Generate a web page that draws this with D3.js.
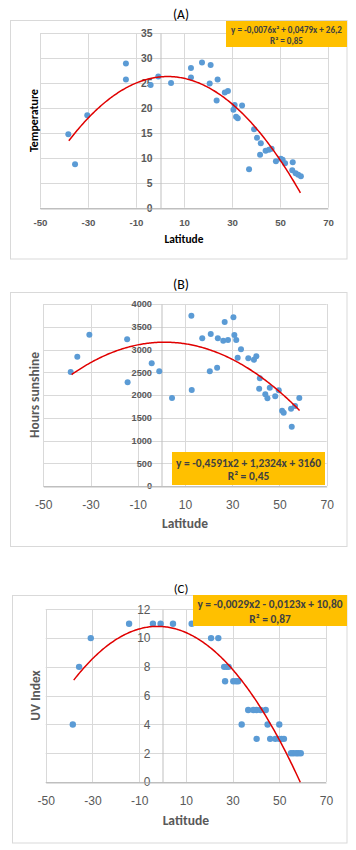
<!DOCTYPE html>
<html><head><meta charset="utf-8">
<script src="https://cdn.jsdelivr.net/npm/d3@7"></script>
<style>
html,body{margin:0;padding:0;background:#fff;}
svg{display:block;font-family:Calibri,Carlito,"Open Sans","Liberation Sans",sans-serif;}
</style></head><body>
<svg id="c" width="356" height="850"></svg>
<script>
// ---- data ----
const xTicks = [-50, -30, -10, 10, 30, 50, 70];

const tempLat = [-14.2,-14.2,-0.7,-3.9,4.6,12.9,12.9,17.5,21.1,20.7,24.0,23.6,27.0,28.3,31.1,30.6,34.2,31.7,32.4,39.2,40.4,-38.2,-30.3,-35.4,42.0,41.7,44.0,45.4,46.5,37.1,48.3,50.3,51.1,52.1,55.3,55.1,56.5,57.6,58.7];
const tempVal = [28.9,25.7,26.3,24.6,25.0,28.0,26.1,29.1,28.6,24.9,25.7,21.5,23.1,23.4,20.6,19.6,20.5,18.2,17.9,15.7,14.0,14.7,18.5,8.7,12.9,10.6,11.4,11.6,11.8,7.7,9.3,9.8,9.6,8.9,9.1,7.5,6.9,6.6,6.3];
const tempTicks = [0,5,10,15,20,25,30,35];
const tempFit = [-0.0076, 0.0479, 26.2];

const sunLat = [-38.4,-35.6,-30.5,-14.5,-14.3,-4.1,-0.9,4.5,12.7,12.85,17.3,20.9,20.5,23.6,23.9,26.2,28.2,26.8,30.5,30.9,31.7,33.7,32.3,36.8,39.2,40.2,41.7,41.4,44.0,44.9,45.9,48.2,49.7,51.1,51.8,54.9,56.6,58.4,55.2];
const sunVal = [2506,2842,3326,3224,2279,2697,2521,1934,3743,2110,3246,3341,2521,2600,3246,3194,3209,3605,3708,3319,3209,3004,2820,2807,2776,2851,2367,2139,2016,1927,2161,1971,2103,1655,1611,1700,1758,1934,1303];
const sunTicks = [0,500,1000,1500,2000,2500,3000,3500,4000];
const sunFit = [-0.4591, 1.2324, 3160];

const uvLat = [-35.7,-30.7,-14.3,-4.1,-0.8,4.5,12.5,20.8,23.9,26.4,27.5,28.3,26.8,30.3,31.5,32.4,-38.4,33.9,36.7,38.9,40.3,42.0,44.2,40.3,45.0,50.0,46.1,48.3,50.0,51.0,52.0,55.0,56.0,57.2,58.1,59.2];
const uvVal = [8,10,11,11,11,11,11,10,10,8,8,8,7,7,7,7,4,4,5,5,5,5,5,3,4,4,3,3,3,3,3,2,2,2,2,2];
const uvTicks = [0,2,4,6,8,10,12];
const uvFit = [-0.0029, -0.0123, 10.80];

const titles = ["(A)", "(B)", "(C)"];
const yLabels = ["Temperature", "Hours sunshine", "UV Index"];
const eqA = ["y = -0,0076x² + 0,0479x + 26,2", "R² = 0,85"];
const eqB = ["y = -0,4591x2 + 1,2324x + 3160", "R² = 0,45"];
const eqC = ["y = -0,0029x2 - 0,0123x + 10,80", "R² = 0,87"];

// ---- drawing ----
const svg = d3.select("#c");
const plain = d => String(d); // hyphen-minus, as in the original

// scale a text's font size so that its rendered width matches a target width
function fit(sel, target) {
  const node = sel.node();
  const fs = parseFloat(sel.attr("font-size"));
  const w = node.getComputedTextLength();
  const nf = fs * target / w;
  sel.attr("font-size", nf);
  return nf;
}

function panel(o) {
  const g = svg.append("g");
  g.append("rect").attr("x", o.frame[0]).attr("y", o.frame[1]).attr("width", o.frame[2]).attr("height", o.frame[3])
    .attr("fill", "#fff").attr("stroke", "#d9d9d9").attr("stroke-width", 1);
  const t = g.append("text").attr("x", o.titleXY[0]).attr("y", o.titleXY[1]).attr("text-anchor", "middle")
    .attr("dominant-baseline", "central").attr("font-size", 13).attr("fill", "#000").text(o.title);
  fit(t, o.titleW);

  const x = d3.scaleLinear().domain([-50, 70]).range(o.xr);
  const y = d3.scaleLinear().domain(o.yd).range(o.yr);

  // grid
  g.append("g").selectAll("line").data(o.yTicks).join("line")
    .attr("x1", o.xr[0]).attr("x2", o.xr[1]).attr("y1", d => Math.round(y(d)) + 0.5).attr("y2", d => Math.round(y(d)) + 0.5)
    .attr("stroke", d => d === 0 ? "#bfbfbf" : "#d9d9d9");
  g.append("g").selectAll("line").data(xTicks).join("line")
    .attr("x1", d => Math.round(x(d)) + 0.5).attr("x2", d => Math.round(x(d)) + 0.5).attr("y1", o.yr[0]).attr("y2", o.yr[1])
    .attr("stroke", "#d9d9d9");

  // y axis at x = 0
  const yAxis = d3.axisLeft(y).tickValues(o.yTicks).tickSize(0).tickPadding(o.yPad).tickFormat(plain);
  const ya = g.append("g").attr("transform", `translate(${Math.round(x(0)) + 0.5},0)`).call(yAxis);
  ya.select(".domain").attr("stroke", "#bfbfbf");
  ya.selectAll("text").attr("font-size", 10).attr("font-weight", o.yBold ? "bold" : "normal")
    .attr("fill", "#595959").attr("font-family", "inherit");
  const yRef = ya.selectAll("text").filter(d => d === o.yRefTick);
  const yfs = fit(yRef, o.yRefW);
  ya.selectAll("text").attr("font-size", yfs);

  // x axis labels
  const xAxis = d3.axisBottom(x).tickValues(xTicks).tickSize(0).tickFormat(plain);
  const xa = g.append("g").attr("transform", `translate(0,${Math.round(o.yr[0]) + 0.5})`).call(xAxis);
  xa.select(".domain").attr("stroke", "#bfbfbf");
  xa.selectAll("text").attr("font-size", 10).attr("font-weight", o.xBold ? "bold" : "normal")
    .attr("fill", "#595959").attr("font-family", "inherit").attr("y", o.xOff).attr("dy", null)
    .attr("dominant-baseline", "central");
  const xRef = xa.selectAll("text").filter(d => d === -30);
  const xfs = fit(xRef, o.xRefW);
  xa.selectAll("text").attr("font-size", xfs);

  // axis titles
  const xl = g.append("text").attr("x", (o.xr[0] + o.xr[1]) / 2).attr("y", o.xLabY).attr("text-anchor", "middle")
    .attr("dominant-baseline", "central").attr("font-size", 10).attr("font-weight", "bold").attr("fill", o.labColor).text("Latitude");
  fit(xl, o.xLabW);
  const yl = g.append("text").attr("transform", `translate(${o.yLab[0]},${o.yLab[1]}) rotate(-90)`)
    .attr("text-anchor", "middle").attr("dominant-baseline", "central").attr("font-size", 10).attr("font-weight", "bold")
    .attr("fill", o.labColor).text(o.yLabel);
  fit(yl, o.yLabW);

  // points
  g.append("g").selectAll("circle").data(o.lat.map((d, i) => [d, o.val[i]])).join("circle")
    .attr("cx", d => x(d[0])).attr("cy", d => y(d[1])).attr("r", o.r).attr("fill", "#5b9bd5");

  // trend
  const f = o.fit;
  const xs = d3.range(o.fitRange[0], o.fitRange[1] + 0.001, 0.5);
  g.append("path").datum(xs).attr("fill", "none").attr("stroke", "#e00000").attr("stroke-width", 1.5)
    .attr("d", d3.line().x(d => x(d)).y(d => y(f[0] * d * d + f[1] * d + f[2])));

  // equation box
  g.append("rect").attr("x", o.box[0]).attr("y", o.box[1]).attr("width", o.box[2]).attr("height", o.box[3]).attr("fill", "#ffc000");
  const cx = o.box[0] + o.box[2] / 2 + (o.eqDx || 0);
  const l1 = g.append("text").attr("x", cx).attr("y", o.eqY[0]).attr("text-anchor", "middle").attr("dominant-baseline", "central")
    .attr("font-size", 10).attr("font-weight", "bold").attr("fill", "#404040").text(o.eq[0]);
  const efs = fit(l1, o.eqW);
  g.append("text").attr("x", cx).attr("y", o.eqY[1]).attr("text-anchor", "middle").attr("dominant-baseline", "central")
    .attr("font-size", efs).attr("font-weight", "bold").attr("fill", "#404040").text(o.eq[1]);
}

panel({
  frame: [10.5, 20.5, 336.5, 238.5], title: titles[0], titleXY: [181, 14], titleW: 16,
  xr: [40, 328], yd: [0, 35], yr: [207.7, 33], yTicks: tempTicks, yBold: true, yPad: 8, yRefTick: 35, yRefW: 11.5,
  xBold: true, xOff: 14, xRefW: 14, xLabY: 238.5, xLabW: 39, labColor: "#000",
  yLab: [33.5, 120.5], yLabW: 63, yLabel: yLabels[0],
  lat: tempLat, val: tempVal, r: 3, fit: tempFit, fitRange: [-38, 58.7],
  box: [226, 21, 121, 26], eq: eqA, eqW: 111, eqY: [29, 40]
});

panel({
  frame: [10.5, 292.5, 336.5, 254], title: titles[1], titleXY: [181, 284], titleW: 16,
  xr: [43.3, 326.7], yd: [0, 4000], yr: [486, 304], yTicks: sunTicks, yBold: true, yPad: 9.5, yRefTick: 4000, yRefW: 20.5,
  xBold: false, xOff: 18, xRefW: 17.5, xLabY: 523.5, xLabW: 46, labColor: "#595959",
  yLab: [34.7, 395], yLabW: 86, yLabel: yLabels[1],
  lat: sunLat, val: sunVal, r: 3, fit: sunFit, fitRange: [-38, 58.7],
  box: [172, 452, 153, 33], eq: eqB, eqW: 145, eqY: [462.7, 476]
});

panel({
  frame: [12.5, 595.5, 334.5, 247.5], title: titles[2], titleXY: [181, 588], titleW: 14.7,
  xr: [45.7, 326], yd: [0, 12], yr: [782, 609.3], yTicks: uvTicks, yBold: false, yPad: 12, yRefTick: 12, yRefW: 13.3,
  xBold: false, xOff: 18.7, xRefW: 17.5, xLabY: 820, xLabW: 46.5, labColor: "#595959",
  yLab: [35, 695.5], yLabW: 50.5, yLabel: yLabels[2],
  lat: uvLat, val: uvVal, r: 3.2, fit: uvFit, fitRange: [-38, 59],
  box: [193, 595, 154, 31], eq: eqC, eqW: 145.5, eqY: [604.3, 619]
});
</script>
</body></html>
